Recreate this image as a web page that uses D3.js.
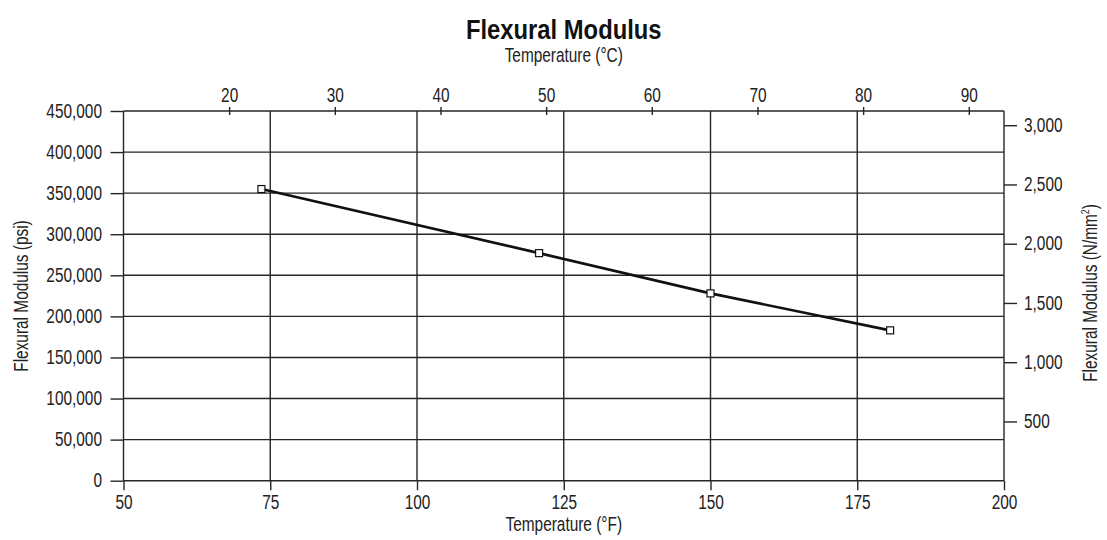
<!DOCTYPE html>
<html>
<head>
<meta charset="utf-8">
<script src="https://cdn.jsdelivr.net/npm/d3@7"></script>
<style>
  html, body { margin: 0; padding: 0; background: #fff; }
  svg { display: block; }
  text { font-family: "Liberation Sans", Arial, sans-serif; fill: #222; }
</style>
</head>
<body>
<svg id="chart" width="1107" height="540"></svg>
<script>
// Flexural modulus vs. temperature
const tempF = [73.5, 120.8, 150, 180.6];          // °F
const modulusPsi = [355000, 277000, 228000, 183000]; // psi

const fTicks = [50, 75, 100, 125, 150, 175, 200];
const cTicks = [20, 30, 40, 50, 60, 70, 80, 90];
const psiTicks = [0, 50000, 100000, 150000, 200000, 250000, 300000, 350000, 400000, 450000];
const nmmTicks = [500, 1000, 1500, 2000, 2500, 3000];

const plot = { left: 123.5, right: 1004, top: 111, bottom: 480.7 };
const SX = 0.79;      // horizontal squeeze giving a condensed face
const FS = 19.5;      // body text size
const TITLE_SX = 0.85;

const svg = d3.select("#chart");

const x = d3.scaleLinear().domain([50, 200]).range([plot.left, plot.right]);
const xC = d3.scaleLinear().domain([(50 - 32) / 1.8, (200 - 32) / 1.8]).range([plot.left, plot.right]);
const y = d3.scaleLinear().domain([0, 450000]).range([plot.bottom, plot.top]);
const yN = d3.scaleLinear().domain([0, 3120]).range([plot.bottom, plot.top]);

const lineColor = "#262626";

// squeeze tick labels horizontally around their anchor point
function condense(sel) {
  sel.each(function () {
    const t = d3.select(this);
    const tx = +t.attr("x") || 0, ty = +t.attr("y") || 0;
    t.attr("x", 0).attr("y", 0)
      .attr("transform", `translate(${tx},${ty}) scale(${SX},1)`);
  });
}

// horizontal grid
svg.append("g")
  .selectAll("line")
  .data(psiTicks)
  .join("line")
  .attr("x1", plot.left).attr("x2", plot.right)
  .attr("y1", d => y(d)).attr("y2", d => y(d))
  .attr("stroke", lineColor).attr("stroke-width", 1.4);

// vertical grid
svg.append("g")
  .selectAll("line")
  .data(fTicks)
  .join("line")
  .attr("x1", d => x(d)).attr("x2", d => x(d))
  .attr("y1", plot.top).attr("y2", plot.bottom)
  .attr("stroke", lineColor).attr("stroke-width", 1.4);

// left axis (psi)
const gL = svg.append("g")
  .attr("transform", `translate(${plot.left},0)`)
  .call(d3.axisLeft(y).tickValues(psiTicks).tickSize(13).tickPadding(8.5).tickFormat(d3.format(",")));

// bottom axis (°F)
const gB = svg.append("g")
  .attr("transform", `translate(0,${plot.bottom})`)
  .call(d3.axisBottom(x).tickValues(fTicks).tickSize(9.5).tickPadding(5));

// top axis (°C), ticks crossing the border line
const gT = svg.append("g")
  .attr("transform", `translate(0,${plot.top + 4})`)
  .call(d3.axisTop(xC).tickValues(cTicks).tickSize(8).tickPadding(5));

// right axis (N/mm²)
const gR = svg.append("g")
  .attr("transform", `translate(${plot.right},0)`)
  .call(d3.axisRight(yN).tickValues(nmmTicks).tickSize(13).tickPadding(7).tickFormat(d3.format(",")));

[gL, gB, gT, gR].forEach(g => {
  g.select(".domain").remove();
  g.selectAll(".tick line").attr("stroke", lineColor).attr("stroke-width", 1.4);
  g.selectAll(".tick text")
    .attr("font-size", FS).attr("fill", "#222")
    .attr("font-family", '"Liberation Sans", Arial, sans-serif')
    .call(condense);
});

// data line and markers
const line = d3.line().x((d, i) => x(tempF[i])).y(d => y(d));
svg.append("path")
  .datum(modulusPsi)
  .attr("d", line)
  .attr("fill", "none")
  .attr("stroke", "#111")
  .attr("stroke-width", 2.6);

svg.append("g")
  .selectAll("rect")
  .data(modulusPsi)
  .join("rect")
  .attr("x", (d, i) => x(tempF[i]) - 3.5)
  .attr("y", d => y(d) - 3.5)
  .attr("width", 7).attr("height", 7)
  .attr("fill", "#fff")
  .attr("stroke", "#111")
  .attr("stroke-width", 1.2);

// titles
const cx = (plot.left + plot.right) / 2;
svg.append("text")
  .attr("transform", `translate(${cx},39) scale(${TITLE_SX},1)`)
  .attr("text-anchor", "middle")
  .attr("font-size", 28).attr("font-weight", "bold")
  .style("fill", "#111")
  .text("Flexural Modulus");

svg.append("text")
  .attr("transform", `translate(${cx},61.5) scale(${SX},1)`)
  .attr("text-anchor", "middle")
  .attr("font-size", FS)
  .text("Temperature (°C)");

svg.append("text")
  .attr("transform", `translate(${cx},531) scale(${SX},1)`)
  .attr("text-anchor", "middle")
  .attr("font-size", FS)
  .text("Temperature (°F)");

svg.append("text")
  .attr("transform", `translate(28,296) rotate(-90) scale(${SX},1)`)
  .attr("text-anchor", "middle")
  .attr("font-size", FS)
  .text("Flexural Modulus (psi)");

const rl = svg.append("text")
  .attr("transform", `translate(1097,293) rotate(-90) scale(${SX},1)`)
  .attr("text-anchor", "middle")
  .attr("font-size", FS);
rl.append("tspan").text("Flexural Modulus (N/mm");
rl.append("tspan").attr("dy", -8).attr("font-size", 11).text("2");
rl.append("tspan").attr("dy", 8).text(")");
</script>
</body>
</html>
